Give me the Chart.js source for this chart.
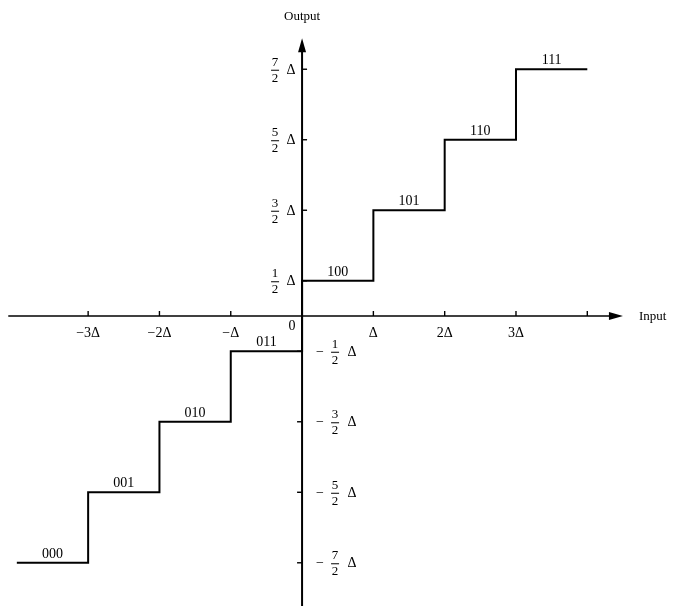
<html><head>
<meta charset="UTF-8">
<title>Quantizer staircase</title>
<script src="https://cdn.jsdelivr.net/npm/chart.js"></script>
<style>
    body { margin: 0; background: #fff; }
    #wrap { width: 680px; height: 606px; position: relative; }
</style>
</head>
<body>
<div id="wrap"><canvas id="quant"></canvas></div>
<script>
    // step edges (in units of delta) and output levels
    const stepEdges = [-4, -3, -2, -1, 0, 1, 2, 3, 4];
    const stepLevels = [-3.5, -2.5, -1.5, -0.5, 0.5, 1.5, 2.5, 3.5];
    const codeWords = ['000', '001', '010', '011', '100', '101', '110', '111'];

    // input axis ticks
    const xTickValues = [-3, -2, -1, 1, 2, 3, 4];
    const xTickLabels = ['\u22123\u0394', '\u22122\u0394', '\u2212\u0394', '\u0394', '2\u0394', '3\u0394', ''];

    // output axis ticks, written as num/den
    const yTickValues = [3.5, 2.5, 1.5, 0.5, -0.5, -1.5, -2.5, -3.5];
    const yTickNum = ['7', '5', '3', '1', '1', '3', '5', '7'];
    const yTickDen = ['2', '2', '2', '2', '2', '2', '2', '2'];

    const points = stepLevels.map((lv, i) => ({ x: stepEdges[i], y: lv }));
    points.push({ x: stepEdges[stepEdges.length - 1], y: stepLevels[stepLevels.length - 1] });

    const serif = '"Liberation Serif", "DejaVu Serif", serif';

    const axesPlugin = {
        id: 'axes',
        afterDraw(chart) {
            const ctx = chart.ctx;
            const sx = chart.scales.x, sy = chart.scales.y;
            const X = v => sx.getPixelForValue(v);
            const Y = v => sy.getPixelForValue(v);
            const x0 = X(0), y0 = Y(0);
            ctx.save();
            ctx.strokeStyle = '#000';
            ctx.fillStyle = '#000';
            ctx.lineWidth = 1.6;

            // input axis
            ctx.beginPath();
            ctx.moveTo(X(-4.12), y0);
            ctx.lineTo(X(4.35), y0);
            ctx.stroke();
            const tipX = X(4.5);
            ctx.beginPath();
            ctx.moveTo(tipX, y0);
            ctx.lineTo(tipX - 14, y0 - 4);
            ctx.lineTo(tipX - 14, y0 + 4);
            ctx.closePath();
            ctx.fill();

            // output axis
            ctx.lineWidth = 2;
            ctx.beginPath();
            ctx.moveTo(x0, Y(-4.12));
            ctx.lineTo(x0, Y(3.75));
            ctx.stroke();
            const tipY = Y(3.94);
            ctx.beginPath();
            ctx.moveTo(x0, tipY);
            ctx.lineTo(x0 - 4, tipY + 14);
            ctx.lineTo(x0 + 4, tipY + 14);
            ctx.closePath();
            ctx.fill();

            ctx.lineWidth = 1.4;
            // x ticks and labels
            ctx.font = '14px ' + serif;
            ctx.textAlign = 'center';
            ctx.textBaseline = 'middle';
            xTickValues.forEach((v, i) => {
                const px = X(v);
                ctx.beginPath();
                ctx.moveTo(px, y0);
                ctx.lineTo(px, y0 - 5);
                ctx.stroke();
                if (xTickLabels[i]) ctx.fillText(xTickLabels[i], px, y0 + 17);
            });
            ctx.fillText('0', x0 - 10, y0 + 10);

            // y ticks and fraction labels
            yTickValues.forEach((v, i) => {
                const py = Y(v);
                const pos = v > 0;
                ctx.beginPath();
                ctx.moveTo(x0, py);
                ctx.lineTo(x0 + (pos ? 5 : -5), py);
                ctx.stroke();
                const fx = pos ? x0 - 27 : x0 + 33;
                const dx = pos ? x0 - 11 : x0 + 50;
                ctx.font = '13px ' + serif;
                ctx.fillText(yTickNum[i], fx, py - 7);
                ctx.fillText(yTickDen[i], fx, py + 9);
                ctx.lineWidth = 1;
                ctx.beginPath();
                ctx.moveTo(fx - 4, py + 1);
                ctx.lineTo(fx + 4, py + 1);
                ctx.stroke();
                ctx.lineWidth = 1.4;
                ctx.font = '14px ' + serif;
                ctx.fillText('\u0394', dx, py + 1);
                if (!pos) ctx.fillText('\u2212', x0 + 18, py + 1);
            });

            // code words above each step
            ctx.font = '14px ' + serif;
            ctx.textBaseline = 'alphabetic';
            codeWords.forEach((w, i) => {
                const cx = (X(stepEdges[i]) + X(stepEdges[i + 1])) / 2;
                ctx.fillText(w, cx, Y(stepLevels[i]) - 5);
            });

            // axis names
            ctx.font = '13px ' + serif;
            ctx.fillText('Output', x0, 20);
            ctx.textAlign = 'left';
            ctx.textBaseline = 'middle';
            ctx.fillText('Input', tipX + 16, y0 + 1);
            ctx.restore();
        }
    };

    new Chart(document.getElementById('quant'), {
        type: 'line',
        data: {
            datasets: [{
                data: points,
                stepped: 'before',
                borderColor: '#000',
                borderWidth: 2,
                pointRadius: 0,
                fill: false
            }]
        },
        options: {
            responsive: true,
            maintainAspectRatio: false,
            animation: false,
            layout: { padding: 0 },
            plugins: { legend: { display: false }, tooltip: { enabled: false } },
            scales: {
                x: { type: 'linear', min: -4.236, max: 5.30, display: false },
                y: { type: 'linear', min: -4.113, max: 4.482, display: false }
            }
        },
        plugins: [axesPlugin]
    });
</script>
</body>
</html>
